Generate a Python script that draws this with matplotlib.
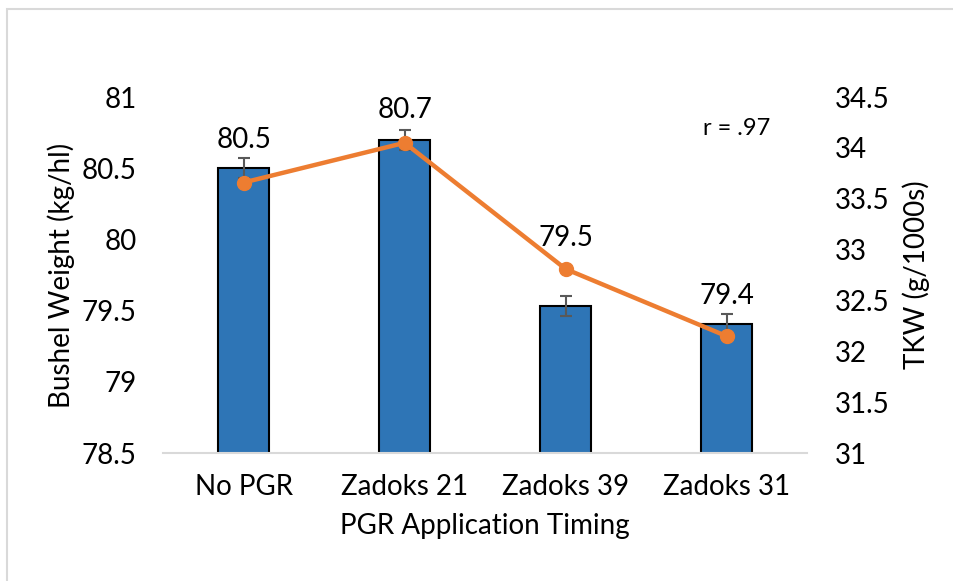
import matplotlib.pyplot as plt
from matplotlib.patches import Rectangle

plt.rcParams['font.family'] = ['Lato', 'DejaVu Sans']

# data
categories = ['No PGR', 'Zadoks 21', 'Zadoks 39', 'Zadoks 31']
bushel_weight = [80.5, 80.7, 79.53, 79.41]
bushel_err = [0.07, 0.07, 0.07, 0.07]
bar_labels = ['80.5', '80.7', '79.5', '79.4']
tkw = [33.66, 34.05, 32.81, 32.15]

# how far above each bar its label sits (layout only)
label_offset = [0.2, 0.21, 0.48, 0.19]

FS = 20

fig = plt.figure(figsize=(9.54, 5.81), dpi=100)
ax = fig.add_axes([0.171, 0.22, 0.675, 0.613])
ax2 = ax.twinx()

x = range(len(categories))
ax.bar(x, bushel_weight, width=0.32, color='#2E75B6', edgecolor='black',
       linewidth=1.5, zorder=2)
ax.errorbar(x, bushel_weight, yerr=bushel_err, fmt='none', ecolor='#595959',
            elinewidth=1.5, capsize=4, capthick=1.5, zorder=3)
for i, v in enumerate(bushel_weight):
    ax.text(i, v + label_offset[i], bar_labels[i], ha='center', va='center',
            fontsize=FS)

ax2.plot(x, tkw, color='#ED7D31', linewidth=3.2, marker='o', markersize=10,
         zorder=4)

ax.set_ylim(78.5, 81)
ax.set_yticks([78.5, 79, 79.5, 80, 80.5, 81])
ax.set_yticklabels(['78.5', '79', '79.5', '80', '80.5', '81'])
ax2.set_ylim(31, 34.5)
ax2.set_yticks([31, 31.5, 32, 32.5, 33, 33.5, 34, 34.5])
ax2.set_yticklabels(['31', '31.5', '32', '32.5', '33', '33.5', '34', '34.5'])
ax.set_xlim(-0.5, 3.5)
ax.set_xticks(list(x))
ax.set_xticklabels(categories)

for a in (ax, ax2):
    for s in ['top', 'left', 'right', 'bottom']:
        a.spines[s].set_visible(False)
    a.tick_params(length=0, labelsize=FS)
ax.spines['bottom'].set_visible(True)
ax.spines['bottom'].set_color('#d9d9d9')
ax.spines['bottom'].set_linewidth(1.5)
ax.tick_params(axis='x', pad=15)
ax.tick_params(axis='y', pad=19)
ax2.tick_params(axis='y', pad=20)
ax.set_zorder(ax2.get_zorder() - 1)
ax.patch.set_visible(False)

ax.set_ylabel('Bushel Weight (kg/hl)', fontsize=FS, va='center')
ax2.set_ylabel('TKW (g/1000s)', fontsize=FS, va='center')
ax.set_xlabel('PGR Application Timing', fontsize=FS, va='center')
ax.yaxis.set_label_coords(-0.158, 0.5)
ax2.yaxis.set_label_coords(1.17, 0.5)
ax.xaxis.set_label_coords(0.5, -0.205)

ax.text(0.891, 0.913, 'r = .97', transform=ax.transAxes, ha='center',
        va='center', fontsize=17)

# chart border like the spreadsheet chart area
fig.patches.append(Rectangle((7 / 954, -0.01), 1.0, 1 - 9 / 581 + 0.01,
                             transform=fig.transFigure, fill=False,
                             edgecolor='#d9d9d9', linewidth=1.5))

fig.savefig('out.png', dpi=100)
